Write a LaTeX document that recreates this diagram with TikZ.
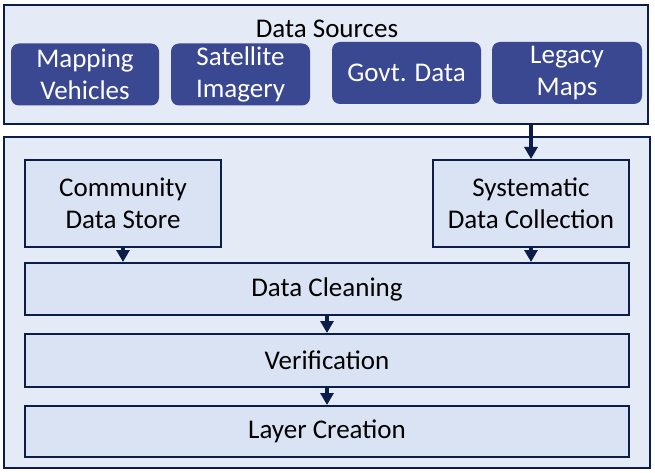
\documentclass[tikz,border=0pt]{standalone}
\usepackage{fontspec}
\setmainfont{Carlito}
\definecolor{navy}{RGB}{12,30,72}
\definecolor{srcfill}{RGB}{58,71,145}
\definecolor{panelfill}{RGB}{228,234,246}
\definecolor{stepfill}{RGB}{218,227,243}
\usetikzlibrary{arrows.meta,positioning}

\begin{document}
\begin{tikzpicture}[x=1pt, y=-1pt,
  panel/.style={draw=navy, line width=2pt, fill=panelfill, inner sep=0pt},
  source/.style={fill=srcfill, rounded corners=8pt, minimum height=62pt, align=center, text=white, inner sep=0pt},
  stepbox/.style={draw=navy, line width=2pt, fill=stepfill, align=center, inner sep=0pt},
  flow/.style={-{Triangle[width=13pt,length=12pt]}, line width=4pt, navy}]
  \useasboundingbox (0,0) rectangle (655,473);
  \fontsize{27}{32}\selectfont

  % Data sources panel
  \node[panel, minimum width=644pt, minimum height=119pt] (src) at (326,64.5) {};
  \node (srctitle) at (327,29) {Data Sources};
  \node[source, minimum width=148pt] (veh) at (85,74.5) {Mapping\\Vehicles};
  \node[source, minimum width=139pt] (sat) at (240.5,74.5) {Satellite\\Imagery};
  \node[source, minimum width=149pt] (gov) at (406.5,73) {Govt. Data};
  \node[source, minimum width=150pt] (leg) at (567,73) {Legacy\\Maps};

  % Processing panel
  \node[panel, minimum width=646pt, minimum height=331pt] (proc) at (327,302.5) {};
  \node[stepbox, minimum width=196pt, minimum height=87pt] (comm) at (123,203.5) {Community\\Data Store};
  \node[stepbox, minimum width=196pt, minimum height=87pt] (sys) at (531,203.5) {Systematic\\Data Collection};
  \node[stepbox, minimum width=604pt, minimum height=52pt] (clean) at (327,289) {Data Cleaning};
  \node[stepbox, minimum width=604pt, minimum height=53pt] (verif) at (327,360.5) {Verification};
  \node[stepbox, minimum width=604pt, minimum height=51pt] (layer) at (327,431.5) {Layer Creation};

  % Flow arrows
  \draw[flow] (src.south -| sys.north) -- (sys.north);
  \draw[flow] (comm.south) -- (comm.south |- clean.north);
  \draw[flow] (sys.south) -- (sys.south |- clean.north);
  \draw[flow] (clean.south) -- (verif.north);
  \draw[flow] (verif.south) -- (layer.north);
\end{tikzpicture}
\end{document}
